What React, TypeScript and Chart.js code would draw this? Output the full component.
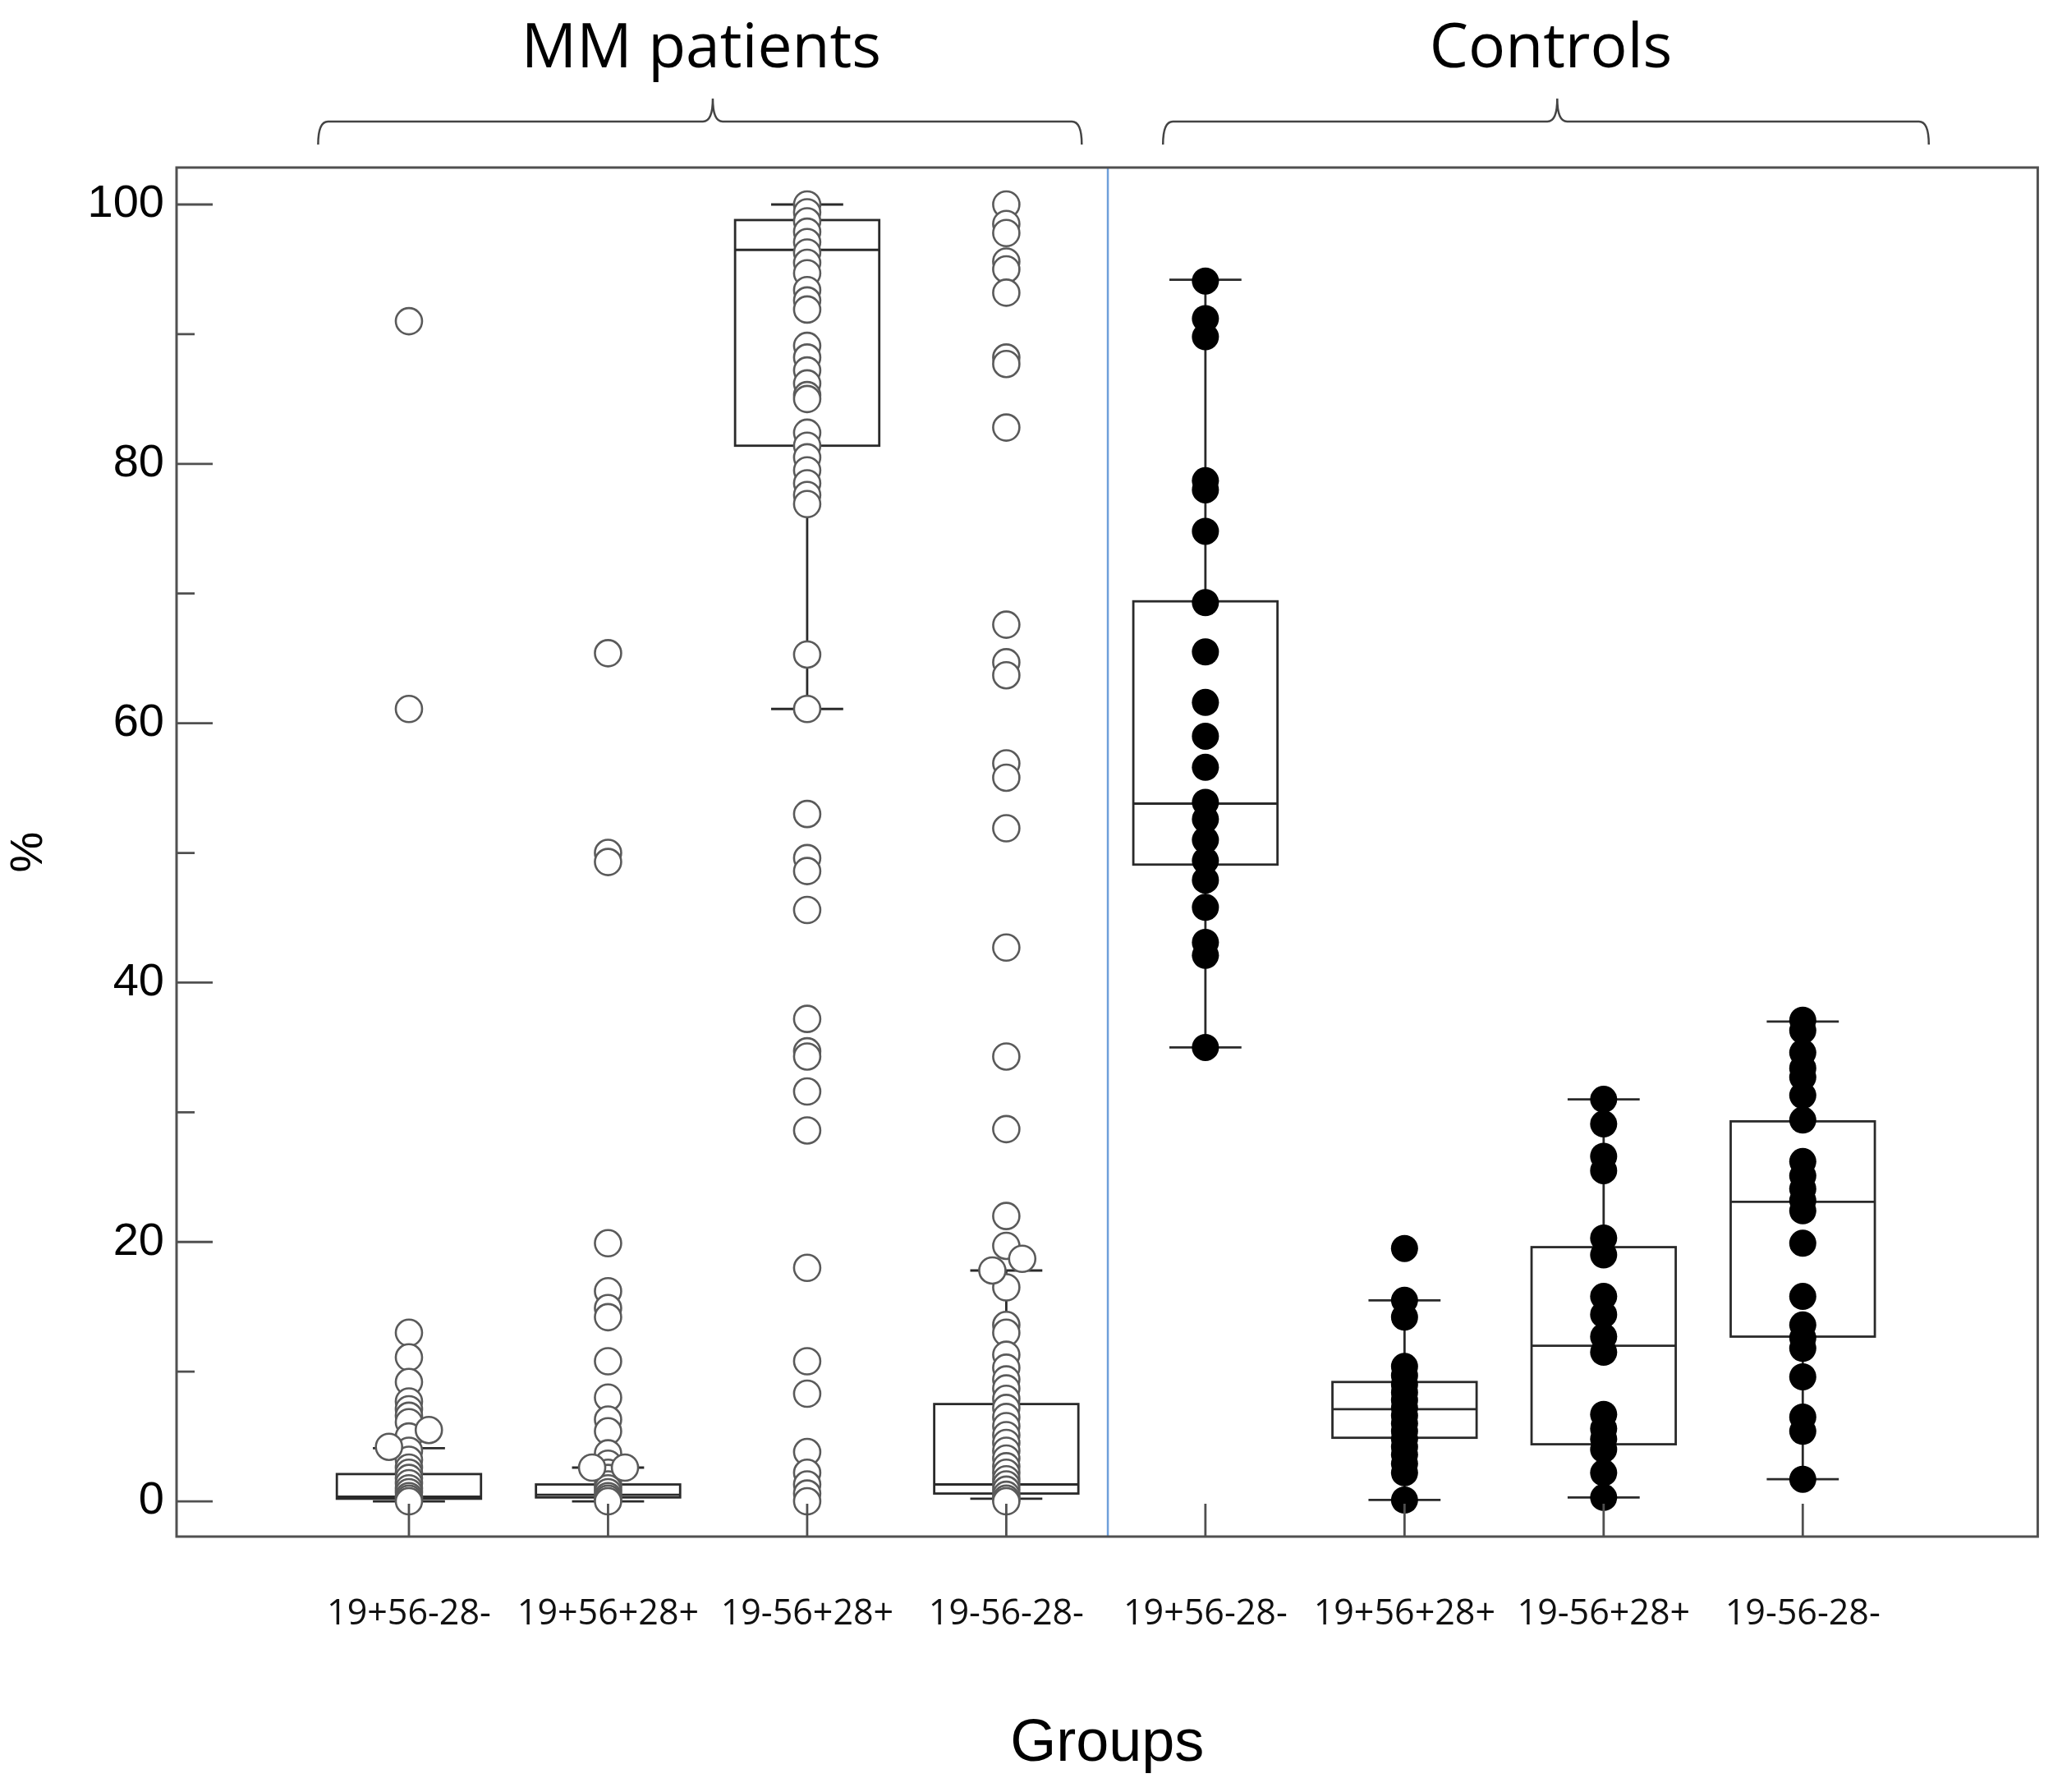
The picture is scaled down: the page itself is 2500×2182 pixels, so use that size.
import { useEffect, useRef } from "react"
import { Chart, registerables } from "chart.js"

Chart.register(...registerables)

// categories (4 MM patient groups, then 4 control groups)
const groupLabels = [
  "19+56-28-",
  "19+56+28+",
  "19-56+28+",
  "19-56-28-",
  "19+56-28-",
  "19+56+28+",
  "19-56+28+",
  "19-56-28-",
]

// box plot statistics per group (%)
const whiskerLow = [0, 0, 61.1, 0.2, 35.0, 0.1, 0.3, 1.7]
const quartile1 = [0.2, 0.3, 81.4, 0.6, 49.1, 4.9, 4.4, 12.7]
const medians = [0.35, 0.5, 96.5, 1.3, 53.8, 7.1, 12.0, 23.1]
const quartile3 = [2.1, 1.3, 98.8, 7.5, 69.4, 9.2, 19.6, 29.3]
const whiskerHigh = [4.1, 2.6, 100, 17.8, 94.2, 15.5, 31.0, 37.0]

// individual values, MM patients
const mm0 = [91.0, 61.1, 13.0, 11.1, 9.2, 7.7, 7.1, 6.6, 6.1, 5.0, 3.9, 3.2, 2.6, 2.2, 1.8, 1.4, 1.0, 0.7, 0.4, 0.2, 0]
const mm1 = [65.4, 50.0, 49.3, 19.9, 16.2, 14.9, 14.2, 10.8, 8.0, 6.3, 5.4, 3.7, 2.9, 2.2, 1.8, 1.3, 1.0, 0.7, 0.4, 0.2, 0]
const mm2 = [
  100, 99.4, 98.7, 97.9, 97.1, 96.3, 95.5, 94.7, 93.4, 92.6, 91.9, 89.1, 88.2, 87.2, 86.2, 85.3, 85.0, 82.4, 81.4,
  80.5, 79.5, 78.5, 77.6, 76.9, 65.3, 61.1, 53.0, 49.6, 48.6, 45.6, 37.2, 34.7, 34.3, 31.6, 28.6, 18.0, 10.8, 8.3,
  3.8, 2.2, 1.3, 0.6, 0,
]
const mm3 = [
  100, 98.5, 97.8, 95.6, 95.0, 93.2, 88.2, 87.7, 82.8, 67.6, 64.7, 63.7, 56.9, 55.8, 51.9, 42.7, 34.3, 28.7, 22.0,
  19.7, 16.5, 13.6, 13.0, 11.3, 10.3, 9.4, 8.7, 7.9, 7.2, 6.5, 5.8, 5.1, 4.5, 3.9, 3.3, 2.7, 2.2, 1.7, 1.3, 0.9, 0.5,
  0.2, 0,
]
// points drawn slightly beside their column (group, shift, value)
const mmShifted = [
  { g: 0, dx: -0.1, v: 4.2 },
  { g: 0, dx: 0.1, v: 5.5 },
  { g: 1, dx: -0.08, v: 2.6 },
  { g: 1, dx: 0.085, v: 2.6 },
  { g: 3, dx: 0.08, v: 18.7 },
  { g: 3, dx: -0.07, v: 17.8 },
]

// individual values, controls
const ctl0 = [94.1, 91.2, 89.8, 78.7, 78.0, 74.8, 69.3, 65.5, 61.6, 59.0, 56.6, 53.9, 52.6, 51.0, 49.4, 47.9, 45.8, 43.1, 42.1, 35.0]
const ctl1 = [19.5, 15.5, 14.2, 10.4, 9.7, 9.0, 8.4, 7.8, 7.2, 6.6, 6.0, 5.4, 4.8, 4.2, 3.6, 2.9, 2.2, 0.1]
const ctl2 = [31.0, 29.1, 26.6, 25.5, 20.3, 19.0, 15.8, 14.4, 12.7, 11.5, 6.7, 5.6, 4.8, 4.0, 2.2, 0.3]
const ctl3 = [37.1, 36.3, 34.6, 33.4, 32.7, 31.3, 29.4, 26.2, 25.1, 24.1, 23.2, 22.4, 19.9, 15.8, 13.6, 12.6, 11.8, 9.6, 6.5, 5.4, 1.7]

const yTicks = [0, 20, 40, 60, 80, 100]
const yMinorTicks = [10, 30, 50, 70, 90]

const mmGroups = [mm0, mm1, mm2, mm3]
const ctlGroups = [ctl0, ctl1, ctl2, ctl3]

const BOX_HALF = 0.362
const CAP_HALF = 0.181
const DIVIDER_AT = 3.51
const braces = [
  { text: "MM patients", from: -0.456, to: 3.379, mid: 1.526, textAt: 1.468 },
  { text: "Controls", from: 3.787, to: 7.633, mid: 5.767, textAt: 5.735 },
]

const boxPlugin = {
  id: "boxes",
  beforeDatasetsDraw(chart: any) {
    const { ctx, chartArea, scales } = chart
    const x = scales.x
    const y = scales.y
    ctx.save()
    // separator between patients and controls
    const dx = x.getPixelForValue(DIVIDER_AT)
    ctx.strokeStyle = "#6f9fda"
    ctx.lineWidth = 2.5
    ctx.beginPath()
    ctx.moveTo(dx, chartArea.top)
    ctx.lineTo(dx, chartArea.bottom)
    ctx.stroke()

    ctx.strokeStyle = "#2a2a2a"
    ctx.lineWidth = 2.8
    groupLabels.forEach((_, i) => {
      const cx = x.getPixelForValue(i)
      const bl = x.getPixelForValue(i - BOX_HALF)
      const br = x.getPixelForValue(i + BOX_HALF)
      const cl = x.getPixelForValue(i - CAP_HALF)
      const cr = x.getPixelForValue(i + CAP_HALF)
      const yLow = y.getPixelForValue(whiskerLow[i])
      const yQ1 = y.getPixelForValue(quartile1[i])
      const yMed = y.getPixelForValue(medians[i])
      const yQ3 = y.getPixelForValue(quartile3[i])
      const yHigh = y.getPixelForValue(whiskerHigh[i])
      ctx.beginPath()
      ctx.moveTo(cx, yLow)
      ctx.lineTo(cx, yQ1)
      ctx.moveTo(cx, yQ3)
      ctx.lineTo(cx, yHigh)
      ctx.moveTo(cl, yLow)
      ctx.lineTo(cr, yLow)
      ctx.moveTo(cl, yHigh)
      ctx.lineTo(cr, yHigh)
      ctx.moveTo(bl, yMed)
      ctx.lineTo(br, yMed)
      ctx.stroke()
      ctx.strokeRect(bl, yQ3, br - bl, yQ1 - yQ3)
    })
    ctx.restore()
  },
  afterDraw(chart: any) {
    const { ctx, chartArea, scales } = chart
    const x = scales.x
    const y = scales.y
    const { left, right, top, bottom } = chartArea
    ctx.save()
    ctx.strokeStyle = "#505050"
    ctx.lineWidth = 3
    ctx.strokeRect(left, top, right - left, bottom - top)

    // inward tick marks
    ctx.lineWidth = 2.8
    ctx.beginPath()
    groupLabels.forEach((_, i) => {
      const px = x.getPixelForValue(i)
      ctx.moveTo(px, bottom)
      ctx.lineTo(px, bottom - 40)
    })
    yTicks.forEach((v) => {
      const py = y.getPixelForValue(v)
      ctx.moveTo(left, py)
      ctx.lineTo(left + 44, py)
    })
    yMinorTicks.forEach((v) => {
      const py = y.getPixelForValue(v)
      ctx.moveTo(left, py)
      ctx.lineTo(left + 22, py)
    })
    ctx.stroke()

    // group braces and titles
    ctx.strokeStyle = "#444"
    ctx.lineWidth = 2.5
    ctx.fillStyle = "#000"
    ctx.font = '75px "Open Sans"'
    ctx.textAlign = "center"
    ctx.textBaseline = "alphabetic"
    braces.forEach((b) => {
      const x1 = x.getPixelForValue(b.from)
      const x2 = x.getPixelForValue(b.to)
      const xm = x.getPixelForValue(b.mid)
      const yLine = top - 56
      const yEnd = top - 28
      const yPeak = top - 84
      ctx.beginPath()
      ctx.moveTo(x1, yEnd)
      ctx.quadraticCurveTo(x1, yLine, x1 + 12, yLine)
      ctx.lineTo(xm - 12, yLine)
      ctx.quadraticCurveTo(xm, yLine, xm, yPeak)
      ctx.quadraticCurveTo(xm, yLine, xm + 12, yLine)
      ctx.lineTo(x2 - 12, yLine)
      ctx.quadraticCurveTo(x2, yLine, x2, yEnd)
      ctx.stroke()
      ctx.fillText(b.text, x.getPixelForValue(b.textAt), top - 122)
    })
    ctx.restore()
  },
}

export default function App() {
  const chartRef = useRef<HTMLCanvasElement>(null)
  const chartInstance = useRef<Chart | null>(null)

  useEffect(() => {
    if (!chartRef.current) return
    if (chartInstance.current) chartInstance.current.destroy()

    const mmData: { x: number; y: number }[] = []
    mmGroups.forEach((vals, g) => vals.forEach((v) => mmData.push({ x: g, y: v })))
    mmShifted.forEach((p) => mmData.push({ x: p.g + p.dx, y: p.v }))

    const ctlData: { x: number; y: number }[] = []
    ctlGroups.forEach((vals, g) => vals.forEach((v) => ctlData.push({ x: g + 4, y: v })))

    chartInstance.current = new Chart(chartRef.current, {
      type: "scatter",
      data: {
        datasets: [
          {
            label: "MM patients",
            data: mmData,
            pointRadius: 16,
            pointBorderWidth: 2.6,
            pointBorderColor: "#5a5a5a",
            pointBackgroundColor: "#ffffff",
          },
          {
            label: "Controls",
            data: ctlData,
            pointRadius: 16.5,
            pointBorderWidth: 0,
            pointBorderColor: "#000",
            pointBackgroundColor: "#000",
          },
        ],
      },
      options: {
        animation: false,
        responsive: true,
        maintainAspectRatio: false,
        events: [],
        layout: { padding: { top: 204, right: 11, left: 0, bottom: 0 } },
        scales: {
          x: {
            type: "linear",
            min: -1.167,
            max: 8.18,
            grid: { display: false, drawTicks: false },
            border: { display: false },
            afterFit: (scale: any) => {
              scale.height = 311
            },
            afterBuildTicks: (scale: any) => {
              scale.ticks = groupLabels.map((_, i) => ({ value: i }))
            },
            ticks: {
              padding: 69,
              color: "#111",
              font: { family: '"Open Sans"', size: 43 },
              maxRotation: 0,
              autoSkip: false,
              callback: (value: any) => groupLabels[value as number] ?? "",
            },
            title: {
              display: true,
              text: "Groups",
              color: "#000",
              font: { family: '"Liberation Sans"', size: 72 },
              padding: { bottom: 15 },
            },
          },
          y: {
            type: "linear",
            min: -2.72,
            max: 102.85,
            grid: { display: false, drawTicks: false },
            border: { display: false },
            afterFit: (scale: any) => {
              scale.width = 215
            },
            afterBuildTicks: (scale: any) => {
              scale.ticks = yTicks.map((v) => ({ value: v }))
            },
            ticks: {
              padding: 15,
              color: "#000",
              font: { family: '"Liberation Sans"', size: 56 },
            },
            title: {
              display: true,
              text: "%",
              color: "#000",
              font: { family: '"Liberation Sans"', size: 56 },
              padding: { top: 2 },
            },
          },
        },
        plugins: {
          legend: { display: false },
          tooltip: { enabled: false },
        },
      },
      plugins: [boxPlugin],
    })

    return () => {
      if (chartInstance.current) {
        chartInstance.current.destroy()
        chartInstance.current = null
      }
    }
  }, [])

  return (
    <div style={{ position: "absolute", left: 0, top: 0, width: 2500, height: 2182, background: "#fff" }}>
      <canvas ref={chartRef}></canvas>
    </div>
  )
}
